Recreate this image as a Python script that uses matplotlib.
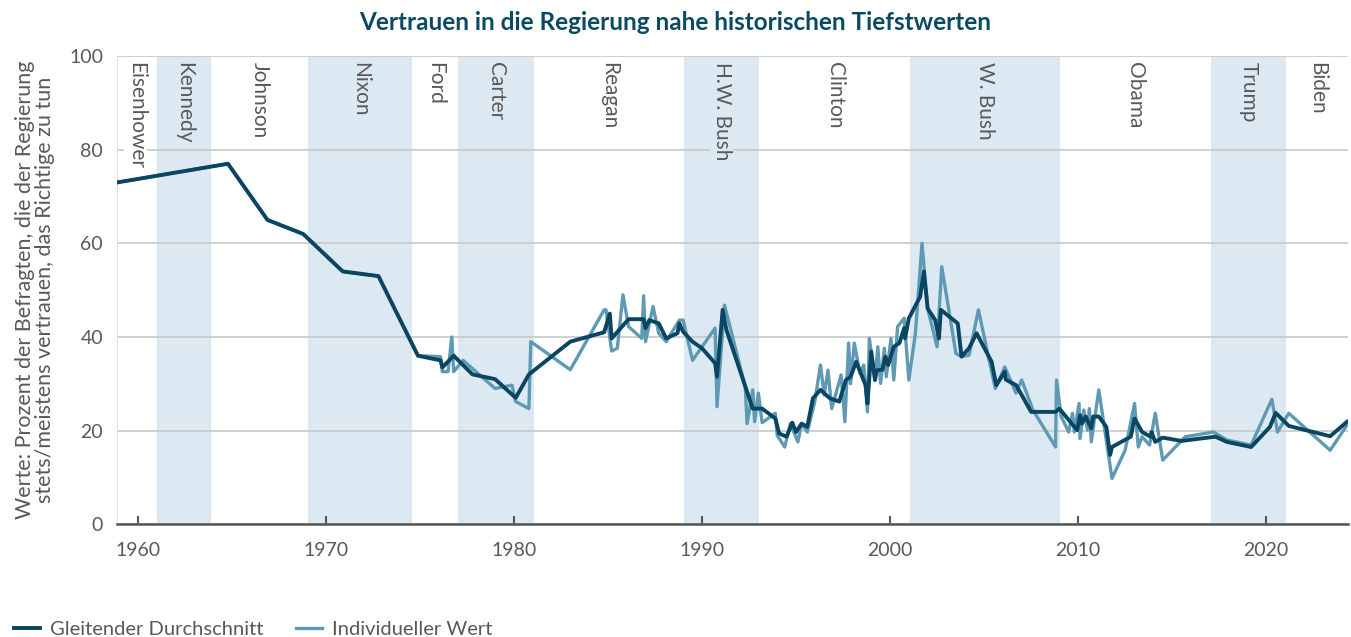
import matplotlib
matplotlib.use("Agg")
import matplotlib.pyplot as plt

plt.rcParams['font.family'] = ['Lato', 'DejaVu Sans']

# Gleitender Durchschnitt (Jahr, Wert)
avg_jahr = [1958.9, 1964.8, 1966.9, 1968.8, 1970.9, 1972.8, 1974.9, 1976.1, 1976.2, 1976.8,
            1977.8, 1979.0, 1980.1, 1980.8, 1983.0, 1984.8, 1985.1, 1985.2, 1986.1, 1986.9,
            1987.0, 1987.2, 1987.7, 1988.1, 1988.7, 1988.8, 1989.0, 1989.5, 1990.0, 1990.7,
            1990.8, 1991.1, 1991.3, 1992.7, 1993.2, 1993.9, 1994.1, 1994.5, 1994.8, 1995.0,
            1995.3, 1995.6, 1995.9, 1996.3, 1996.8, 1997.3, 1997.65, 1997.9, 1998.2, 1998.7,
            1998.8, 1999.0, 1999.2, 1999.3, 1999.6, 1999.75, 1999.9, 2000.2, 2000.5, 2000.75,
            2000.8, 2001.0, 2001.6, 2001.8, 2002.0, 2002.4, 2002.6, 2002.7, 2003.6, 2003.8,
            2004.2, 2004.6, 2005.4, 2005.65, 2006.1, 2006.15, 2006.7, 2007.0, 2007.5, 2008.8,
            2009.0, 2009.95, 2010.1, 2010.2, 2010.4, 2010.7, 2010.8, 2011.1, 2011.5, 2011.7,
            2011.8, 2012.8, 2013.0, 2013.4, 2013.85, 2013.9, 2014.1, 2014.5, 2015.5, 2017.3,
            2017.9, 2019.2, 2020.2, 2020.5, 2021.2, 2023.4, 2024.3]
avg_wert = [73, 77, 65, 62, 54, 53, 36, 35, 33.5, 36,
            32, 31, 27, 32, 39, 41, 45, 39.7, 43.8, 43.8,
            41.9, 43.6, 42.9, 39.7, 40.8, 42.9, 41.1, 39, 37.6, 34.4,
            31.5, 45.8, 41.5, 24.7, 24.7, 22.6, 19.4, 18.7, 21.7, 19.7,
            21.5, 20.8, 26.9, 28.7, 26.9, 26.2, 30.8, 31.5, 34.7, 29.7,
            25.8, 36.9, 30.8, 32.9, 33, 35.8, 34, 37.9, 38.7, 41.9,
            39.7, 44, 48.6, 54, 46.1, 43.6, 39.7, 45.8, 42.9, 35.8,
            37.6, 40.8, 34.7, 29.7, 32.6, 30.9, 29.7, 27.6, 24, 24,
            24.7, 20.1, 23.3, 21.5, 23, 20.5, 23, 23, 20.8, 14.8,
            16.5, 18.7, 22.6, 19.7, 18.7, 19.7, 17.6, 18.5, 17.8, 18.7,
            17.6, 16.5, 20.8, 23.8, 21, 18.8, 21.9]

# Individueller Wert (Jahr, Wert)
ind_jahr = [1958.9, 1964.8, 1966.9, 1968.8, 1970.9, 1972.8, 1974.9, 1976.1, 1976.2, 1976.5,
            1976.7, 1976.8, 1977.3, 1979.0, 1979.9, 1980.1, 1980.8, 1980.9, 1983.0, 1984.8,
            1984.9, 1985.2, 1985.5, 1985.8, 1986.1, 1986.8, 1986.9, 1987.0, 1987.4, 1987.7,
            1988.1, 1988.8, 1989.0, 1989.5, 1990.7, 1990.8, 1991.2, 1992.3, 1992.4, 1992.7,
            1992.8, 1993.0, 1993.2, 1993.9, 1994.0, 1994.4, 1994.7, 1995.1, 1995.3, 1995.6,
            1996.0, 1996.3, 1996.5, 1996.7, 1996.9, 1997.4, 1997.6, 1997.8, 1997.9, 1998.1,
            1998.4, 1998.6, 1998.8, 1998.9, 1999.2, 1999.35, 1999.5, 1999.7, 1999.8, 2000.05,
            2000.2, 2000.4, 2000.75, 2001.0, 2001.35, 2001.7, 2002.0, 2002.5, 2002.75, 2003.5,
            2003.8, 2004.2, 2004.7, 2005.4, 2005.6, 2006.1, 2006.7, 2007.0, 2007.6, 2008.8,
            2008.85, 2009.1, 2009.5, 2009.7, 2009.8, 2010.05, 2010.1, 2010.3, 2010.5, 2010.6,
            2010.7, 2011.1, 2011.8, 2012.5, 2013.0, 2013.2, 2013.4, 2013.8, 2014.1, 2014.5,
            2015.7, 2017.2, 2017.9, 2019.2, 2020.3, 2020.6, 2021.2, 2023.4, 2024.3]
ind_wert = [73, 77, 65, 62, 54, 53, 36, 35.8, 32.6, 32.6,
            40, 32.6, 35, 29, 29.7, 26.2, 24.7, 39, 33, 45.8,
            45.8, 37, 37.6, 49, 42.2, 39.7, 48.8, 39, 46.5, 40.8,
            39, 43.6, 43.6, 35, 41.9, 25.1, 46.8, 29.4, 21.5, 28.7,
            21.9, 28, 21.7, 23.7, 19, 16.5, 21.5, 17.6, 21.5, 19.7,
            26.2, 34, 27.6, 32.9, 24.7, 31.9, 21.9, 38.7, 30, 38.7,
            32.2, 34, 24, 39.7, 30.8, 37.9, 30.1, 37.6, 31.5, 39.7,
            30.8, 42.2, 44, 30.8, 40.8, 60, 46.1, 37.9, 55, 36.5,
            35.8, 36.1, 45.8, 32.6, 29, 33.6, 28, 30.8, 24.4, 16.5,
            30.8, 23, 19.7, 23.7, 19.7, 25.8, 18.3, 24.4, 20.1, 24.7,
            17.6, 28.7, 9.8, 15.8, 25.8, 16.5, 18.7, 16.9, 23.7, 13.7,
            18.7, 19.7, 18, 16.9, 26.7, 19.7, 23.7, 15.8, 21.2]

# Amtszeiten
praesidenten = ["Eisenhower", "Kennedy", "Johnson", "Nixon", "Ford", "Carter", "Reagan",
                "H.W. Bush", "Clinton", "W. Bush", "Obama", "Trump", "Biden"]
amt_start = [1953.0, 1961.05, 1963.9, 1969.05, 1974.6, 1977.05, 1981.05,
             1989.05, 1993.05, 2001.05, 2009.05, 2017.05, 2021.05]
amt_ende = [1961.05, 1963.9, 1969.05, 1974.6, 1977.05, 1981.05, 1989.05,
            1993.05, 2001.05, 2009.05, 2017.05, 2021.05, 2025.0]
schattiert = [False, True, False, True, False, True, False, True, False, True, False, True, False]

x_min, x_max = 1958.9, 2024.35
band_farbe = '#dde9f2'
grau = '#595959'

fig = plt.figure(figsize=(13.51, 6.37), dpi=100)
ax = fig.add_axes([0.0866, 0.177, 0.9112, 0.735])

for name, a, e, s in zip(praesidenten, amt_start, amt_ende, schattiert):
    if s:
        ax.axvspan(a, e, color=band_farbe, zorder=0, lw=0)
    mitte = (max(a, x_min) + min(e, x_max)) / 2
    if name == "Eisenhower":
        mitte = 1959.9
    ax.text(mitte, 98.8, name, rotation=270, ha='center', va='top', fontsize=15,
            color=grau, zorder=3,
            bbox=dict(facecolor=band_farbe if s else 'white', edgecolor='none', pad=1))

ax.plot(ind_jahr, ind_wert, color='#5f9ab5', lw=2.4, zorder=4, label='Individueller Wert')
ax.plot(avg_jahr, avg_wert, color='#0a4561', lw=2.8, zorder=5, label='Gleitender Durchschnitt')

ax.set_xlim(x_min, x_max)
ax.set_ylim(0, 100)
ax.set_yticks([0, 20, 40, 60, 80, 100])
ax.set_xticks([1960, 1970, 1980, 1990, 2000, 2010, 2020])
ax.grid(axis='y', color='#c8c8c8', lw=1.2, zorder=1)
ax.set_axisbelow(True)
ax.tick_params(axis='y', length=0, labelsize=14, labelcolor=grau, pad=10)
ax.tick_params(axis='x', direction='in', length=6, width=1.5, color='#555555',
               labelsize=14, labelcolor=grau, pad=13)
for sp in ['top', 'right']:
    ax.spines[sp].set_visible(False)
ax.spines['left'].set_color('#e0e0e0')
ax.spines['bottom'].set_color('#555555')
ax.spines['bottom'].set_linewidth(1.8)

fig.text(35 / 1351, 0.545,
         "Werte: Prozent der Befragten, die der Regierung\nstets/meistens vertrauen, das Richtige zu tun",
         rotation=90, ha='center', va='center', multialignment='center', fontsize=15.5, color=grau,
         linespacing=0.95)

fig.text(0.5, 1 - 23 / 637, "Vertrauen in die Regierung nahe historischen Tiefstwerten",
         ha='center', va='center', fontsize=17.5, fontweight='bold', color='#0b4a63')

handles, labels = ax.get_legend_handles_labels()
fig.legend(handles[::-1], labels[::-1], loc='lower left', bbox_to_anchor=(-0.003, -0.03),
           ncol=2, frameon=False, fontsize=14.5, labelcolor=grau, handlelength=1.3,
           handletextpad=0.5, columnspacing=1.6)

fig.savefig('out.png', dpi=100)
